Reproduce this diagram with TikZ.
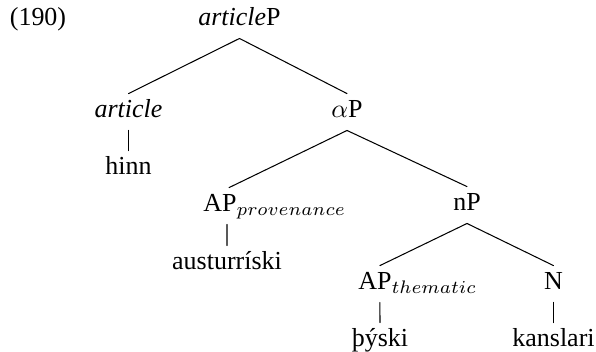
\documentclass[tikz,border=0pt]{standalone}
\usepackage{fontspec}
\setmainfont{Liberation Serif}
\begin{document}
\begin{tikzpicture}[x=.385pt,y=-.385pt,line cap=round,
  cat/.style={inner xsep=0pt,inner ysep=4.6pt,text height=4.6pt,text depth=0pt,anchor=base},
  branch/.style={line width=.4pt}]

\useasboundingbox (0,0) rectangle (596,352);

% example number and the root
\node[anchor=base] (exno) at (38,26) {(190)};
\node[cat] (top) at (239.5,26) {\textit{article}P};

% first split: article and alphaP
\node[cat] (art) at (128.5,118) {\textit{article}};
\node[cat] (hinn) at (128.5,175) {hinn};
\node[cat] (alpha) at (347,118) {$\alpha$P};
\draw[branch] (top.south) -- (art.north);
\draw[branch] (top.south) -- (alpha.north);
\draw[branch] (art.south) -- (hinn.north);

% alphaP: provenance adjective and nP
\node[cat] (approv) at (220,212) {AP\rlap{$_{provenance}$}};
\node[cat] (aust) at (227,270) {austurríski};
\node[cat] (np) at (467,211) {nP};
\draw[branch] (alpha.south) -- ([xshift=3.5pt]approv.north);
\draw[branch] (alpha.south) -- (np.north);
\draw[branch] ([xshift=2.7pt]approv.south) -- (aust.north);

% nP: thematic adjective and the noun
\node[cat] (apthem) at (375,290) {AP\rlap{$_{thematic}$}};
\node[cat] (thyski) at (380,347) {þýski};
\node[cat] (noun) at (553.5,290) {N};
\node[cat] (kanslari) at (553.5,347) {kanslari};
\draw[branch] (np.south) -- ([xshift=1.9pt]apthem.north);
\draw[branch] (np.south) -- (noun.north);
\draw[branch] ([xshift=1.9pt]apthem.south) -- (thyski.north);
\draw[branch] (noun.south) -- (kanslari.north);
\end{tikzpicture}
\end{document}
